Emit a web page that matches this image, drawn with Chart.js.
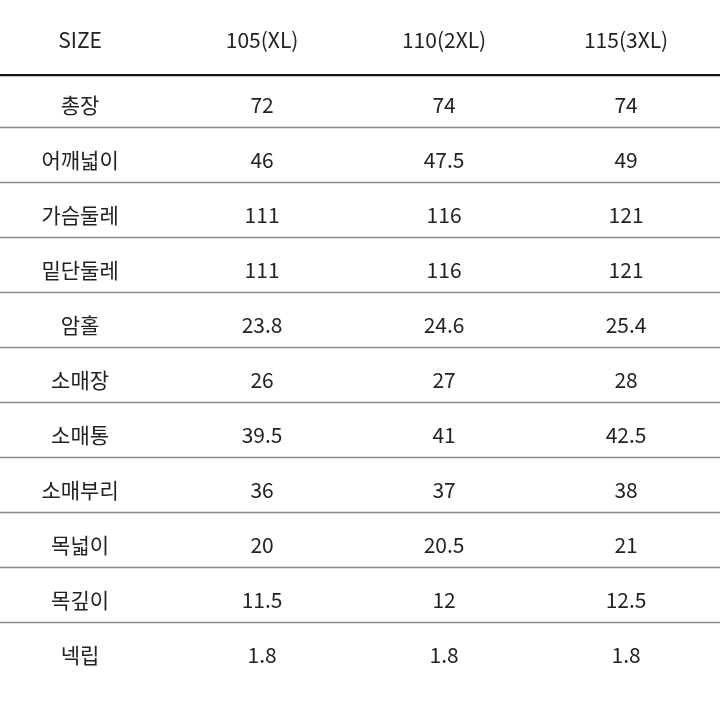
<!DOCTYPE html>
<html><head><meta charset="utf-8">
<script src="https://cdn.jsdelivr.net/npm/chart.js@4"></script>
<style>html,body{margin:0;padding:0;background:#fff}#wrap{width:720px;height:720px}</style>
</head><body><div id="wrap"><canvas id="c"></canvas></div>
<script>
// size table drawn on a scatter chart: columns on x, rows on y
const columns = ['SIZE', '105(XL)', '110(2XL)', '115(3XL)'];
const rowLabels = ['총장', '어깨넓이', '가슴둘레', '밑단둘레', '암홀', '소매장', '소매통', '소매부리', '목넓이', '목깊이', '넥립'];
const xl = [72, 46, 111, 111, 23.8, 26, 39.5, 36, 20, 11.5, 1.8];
const xxl = [74, 47.5, 116, 116, 24.6, 27, 41, 37, 20.5, 12, 1.8];
const xxxl = [74, 49, 121, 121, 25.4, 28, 42.5, 38, 21, 12.5, 1.8];
const HEADER_ROW = -1.18;

const cells = [];
columns.forEach((c, j) => cells.push({ x: j, y: HEADER_ROW, t: c }));
rowLabels.forEach((r, i) => {
    cells.push({ x: 0, y: i, t: r });
    cells.push({ x: 1, y: i, t: String(xl[i]) });
    cells.push({ x: 2, y: i, t: String(xxl[i]) });
    cells.push({ x: 3, y: i, t: String(xxxl[i]) });
});

const tablePlugin = {
    id: 'table',
    afterDatasetsDraw(chart) {
        const { ctx, scales: { x, y }, chartArea } = chart;
        ctx.save();
        // header rule
        ctx.strokeStyle = '#111'; ctx.lineWidth = 2.2;
        let py = y.getPixelForValue(-0.545);
        ctx.beginPath(); ctx.moveTo(chartArea.left, py); ctx.lineTo(chartArea.right, py); ctx.stroke();
        // row dividers
        ctx.strokeStyle = '#888'; ctx.lineWidth = 1.4;
        for (let i = 0; i < rowLabels.length - 1; i++) {
            py = Math.round(y.getPixelForValue(i + 0.4)) + 0.5;
            ctx.beginPath(); ctx.moveTo(chartArea.left, py); ctx.lineTo(chartArea.right, py); ctx.stroke();
        }
        ctx.fillStyle = '#222';
        ctx.textAlign = 'center'; ctx.textBaseline = 'middle';
        chart.getDatasetMeta(0).data.forEach((pt, k) => {
            const cell = cells[k];
            ctx.font = (cell.y === HEADER_ROW ? '21px' : '21px') + ' "Noto Sans CJK KR", "Noto Sans", sans-serif';
            ctx.fillText(cell.t, pt.x, pt.y);
        });
        ctx.restore();
    }
};

new Chart(document.getElementById('c'), {
    type: 'scatter',
    data: { datasets: [{ data: cells.map(c => ({ x: c.x, y: c.y })), pointRadius: 0 }] },
    options: {
        responsive: true, maintainAspectRatio: false, animation: false,
        layout: { padding: 0 },
        plugins: { legend: { display: false }, tooltip: { enabled: false } },
        scales: {
            x: { type: 'linear', display: false, min: -0.44, max: 3.516 },
            y: { type: 'linear', display: false, reverse: true, min: -1.909, max: 11.18 }
        }
    },
    plugins: [tablePlugin]
});
</script></body></html>
